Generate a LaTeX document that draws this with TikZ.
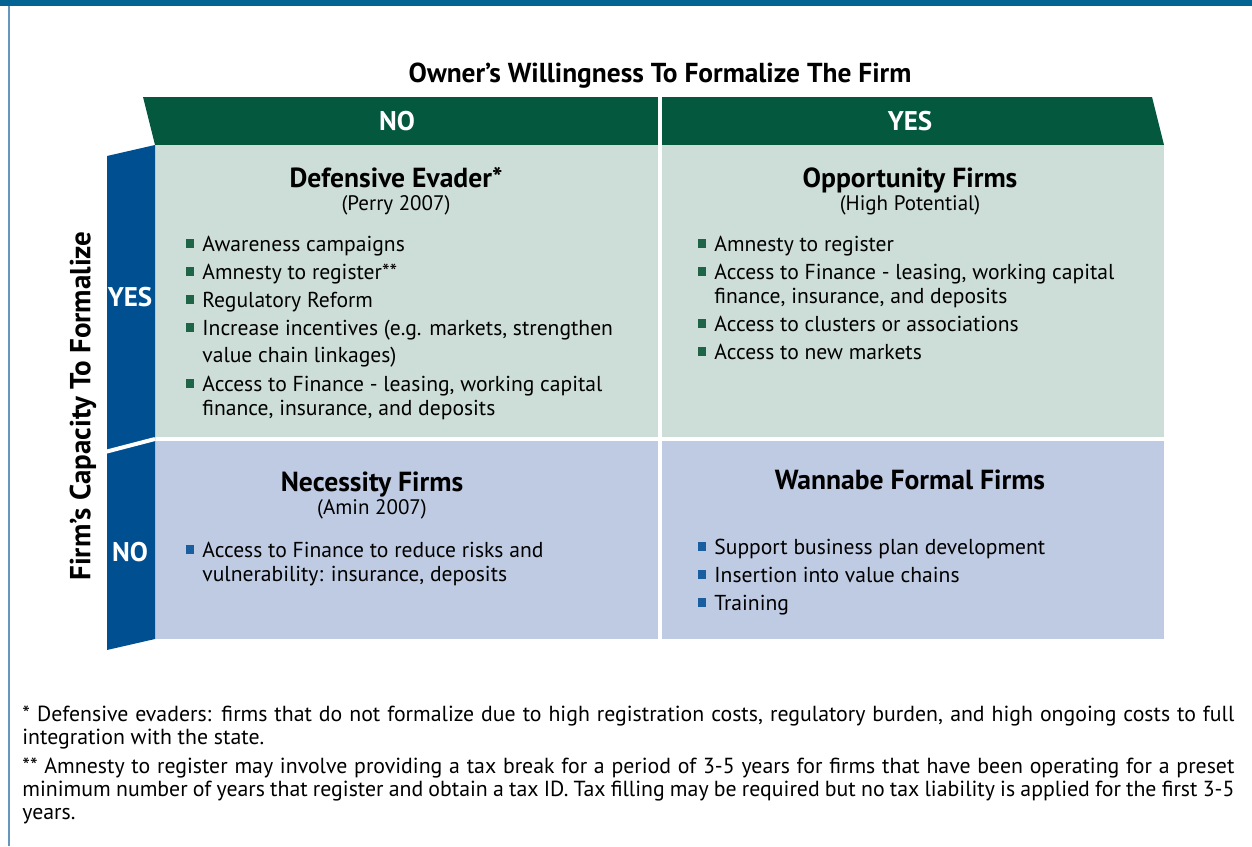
\documentclass[tikz,border=0pt]{standalone}
\usepackage{fontspec}
\setmainfont{PT Sans}
\usepackage{tikz}
\usetikzlibrary{positioning}

\definecolor{topbar}{RGB}{3,100,148}
\definecolor{frameline}{RGB}{100,150,190}
\definecolor{hdrgreen}{RGB}{3,88,61}
\definecolor{cellgreen}{RGB}{204,222,215}
\definecolor{cellblue}{RGB}{190,203,227}
\definecolor{barblue}{RGB}{0,80,145}
\definecolor{bulgreen}{RGB}{30,100,70}
\definecolor{bulblue}{RGB}{25,95,160}

\newcommand{\sqb}[1]{\llap{\textcolor{#1}{\rule[1.5pt]{4.3pt}{4.3pt}}\hspace{4pt}}}
\newcommand{\notefont}{\fontsize{10.9}{11.5}\selectfont\hyphenpenalty=10000\relax}

\begin{document}
\begin{tikzpicture}[x=0.5pt, y=-0.5pt, %
      itm/.style={inner sep=0pt, anchor=base west, align=left, font=\fontsize{10.8}{12}\selectfont}, %
      ttl/.style={inner sep=0pt, anchor=base, font=\bfseries\fontsize{13.8}{15}\selectfont}, %
      sub/.style={inner sep=0pt, anchor=base, font=\fontsize{10.5}{12}\selectfont}, %
      tab/.style={inner sep=0pt, anchor=base, text=white, font=\bfseries\fontsize{13.5}{15}\selectfont}, %
      note/.style={inner sep=0pt, anchor=base west, text width=606pt, align=justify, font=\notefont}, %
      ]
    \useasboundingbox (0,0) rectangle (1252,846);

    % frame
    \fill[topbar] (0,0) rectangle (1252,6);
    \draw[frameline, line width=1pt] (8.5,6) -- (8.5,846);

    % header and cells
    \fill[hdrgreen] (143,97) -- (1152,97) -- (1164,145) -- (155,145) -- cycle;
    \fill[cellgreen] (155,145) rectangle (1164,437);
    \fill[cellblue] (155,441) rectangle (1164,639);
    \draw[white, line width=2pt] (660,97) -- (660,639);
    \fill[barblue] (107,156) -- (155,145) -- (155,639) -- (107,650) -- cycle;
    \draw[white, line width=2pt] (105,452) -- (155,439);

    \node[ttl, font=\bfseries\fontsize{13.7}{15}\selectfont] (title) at (660,82) {Owner’s Willingness To Formalize The Firm};
    \node[tab] (hno) at (397,130) {NO};
    \node[tab] (hyes) at (910,130) {YES};
    \node[tab] (vyes) at (130,306) {YES};
    \node[tab] (vno) at (130,561) {NO};
    \node[ttl, anchor=center, rotate=90, font=\bfseries\fontsize{14.5}{16}\selectfont] (capacity) at (83,406) {Firm’s Capacity To Formalize};

    % cell titles
    \foreach \a/\x/\y/\head/\ref in { %
      evader/396/187/{Defensive Evader*}/{(Perry 2007)},%
      opportunity/910/187/{Opportunity Firms}/{(High Potential)},%
      necessity/372/491/{Necessity Firms}/{(Amin 2007)},%
      wannabe/910/489/{Wannabe Formal Firms}/{}%
    }{ %
      \node[ttl] (\a) at (\x,\y) {\head};
      \node[sub] (\a ref) at (\x,\y+23) {\ref};
    }

    % bullet items (y = baseline of the last line)
    \foreach \a/\col/\x/\y/\txt in { %
      de1/bulgreen/202/251/{Awareness campaigns},%
      de2/bulgreen/202/279/{Amnesty to register**},%
      de3/bulgreen/202/307/{Regulatory Reform},%
      de4/bulgreen/202/362/{Increase incentives (e.g. markets, strengthen\\[1.5pt]value chain linkages)},%
      de5/bulgreen/202/415/{Access to Finance - leasing, working capital\\finance, insurance, and deposits},%
      op1/bulgreen/714/251/{Amnesty to register},%
      op2/bulgreen/714/303/{Access to Finance - leasing, working capital\\finance, insurance, and deposits},%
      op3/bulgreen/714/331/{Access to clusters or associations},%
      op4/bulgreen/714/359/{Access to new markets},%
      ne1/bulblue/202/581/{Access to Finance to reduce risks and\\vulnerability: insurance, deposits},%
      wa1/bulblue/714/554/{Support business plan development},%
      wa2/bulblue/714/582/{Insertion into value chains},%
      wa3/bulblue/714/610/{Training}%
    }{ %
      \node[itm] (\a) at (\x,\y) {\sqb{\col}\txt};
    }

    % footnotes (y = baseline of the first line)
    \node[note] (note1) at (22,721) {* Defensive evaders: firms that do not formalize due to high registration costs, regulatory burden, and high ongoing costs to full\linebreak integration with the state.};
    \node[note] (note2) at (22,773) {** Amnesty to register may involve providing a tax break for a period of 3-5 years for firms that have been operating for a preset\linebreak minimum number of years that register and obtain a tax ID. Tax filling may be required but no tax liability is applied for the first 3-5\linebreak years.};
\end{tikzpicture}
\end{document}
